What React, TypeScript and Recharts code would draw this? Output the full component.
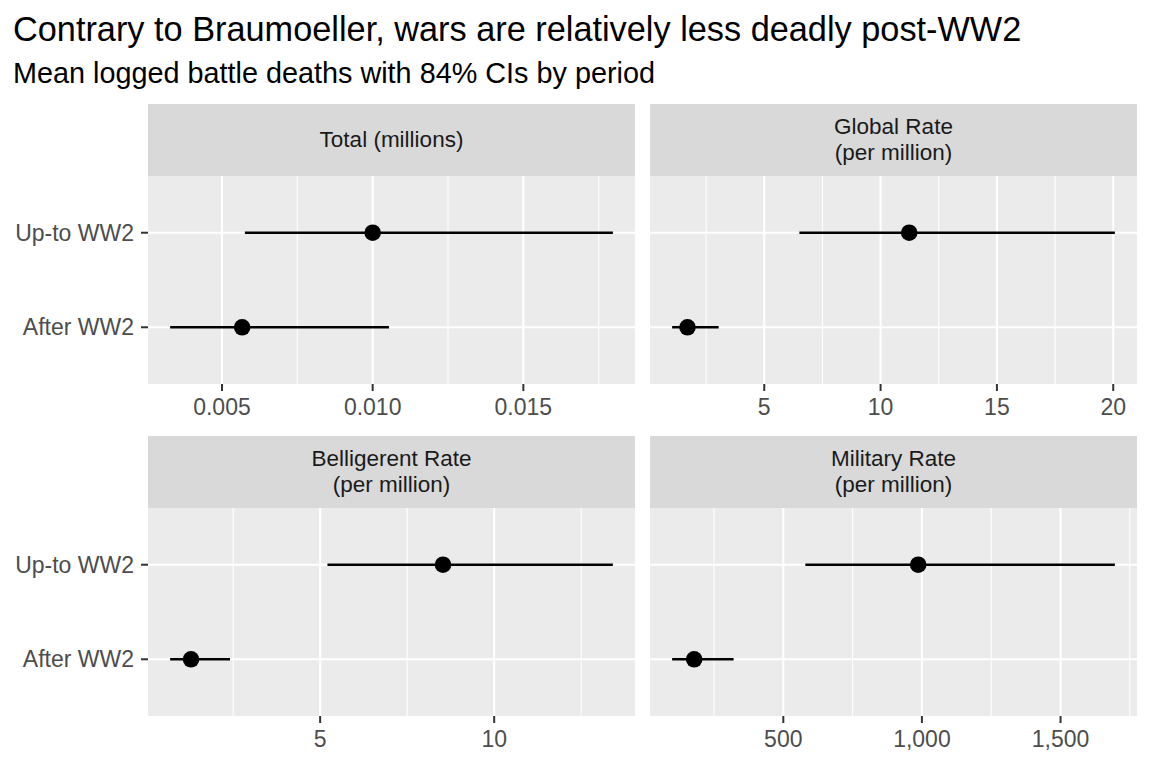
import React from 'react';
import {ScatterChart, Scatter, XAxis, YAxis, CartesianGrid, ErrorBar} from 'recharts';

const categories = ['Up-to WW2', 'After WW2'];
const panelTitles = ['Total (millions)', 'Global Rate\n(per million)', 'Belligerent Rate\n(per million)', 'Military Rate\n(per million)'];

// mean and 84% CI bounds, in category order
const totalMean = [0.0100, 0.00567];
const totalLow = [0.00576, 0.00328];
const totalHigh = [0.01797, 0.01054];

const globalMean = [11.23, 1.70];
const globalLow = [6.51, 1.04];
const globalHigh = [20.07, 3.04];

const belligerentMean = [8.53, 1.29];
const belligerentLow = [5.21, 0.69];
const belligerentHigh = [13.41, 2.41];

const militaryMean = [986.6, 178.5];
const militaryLow = [579.5, 99];
const militaryHigh = [1696, 320.8];

const totalTicks = [0.005, 0.010, 0.015];
const totalMinor = [0.0075, 0.0125, 0.0175];
const globalTicks = [5, 10, 15, 20];
const globalMinor = [2.5, 7.5, 12.5, 17.5];
const belligerentTicks = [5, 10];
const belligerentMinor = [2.5, 7.5, 12.5];
const militaryTicks = [500, 1000, 1500];
const militaryMinor = [250, 750, 1250, 1750];

const FONT = '"Liberation Sans", Arial, sans-serif';

const buildRows = (mean: number[], low: number[], high: number[]) =>
    categories.map((c, i) => ({
        cat: categories.length - i,
        label: c,
        est: mean[i],
        err: [mean[i] - low[i], high[i] - mean[i]],
    }));

const expandDomain = (low: number[], high: number[]): [number, number] => {
    const lo = Math.min(...low);
    const hi = Math.max(...high);
    const pad = (hi - lo) * 0.05;
    return [lo - pad, hi + pad];
};

const catLabel = (v: number) => categories[categories.length - v] ?? '';

const Dot = (props: any) => <circle cx={props.cx} cy={props.cy} r={8.3} fill="#000"/>;

type PanelProps = {
    left: number;
    top: number;
    width: number;
    showY: boolean;
    title: string;
    mean: number[];
    low: number[];
    high: number[];
    ticks: number[];
    minor: number[];
    fmt: (v: number) => string;
};

const Panel = ({left, top, width, showY, title, mean, low, high, ticks, minor, fmt}: PanelProps) => {
    const rows = buildRows(mean, low, high);
    const plotLeft = showY ? 148 : 0;
    return (
        <>
            <div style={{
                position: 'absolute', left: left + plotLeft, top: top - 72, width: width - plotLeft - 5, height: 72,
                background: '#D9D9D9', display: 'flex', alignItems: 'center', justifyContent: 'center',
                textAlign: 'center', whiteSpace: 'pre-line', fontSize: 22.5, lineHeight: '26px', color: '#1A1A1A',
            }}>
                {title}
            </div>
            <div style={{position: 'absolute', left, top}}>
                <ScatterChart width={width} height={260} margin={{top: 0, right: 5, bottom: 0, left: 0}}>
                    <CartesianGrid fill="#EBEBEB" stroke="#fff" strokeWidth={1.1} horizontal={false}
                                   verticalValues={minor}/>
                    <CartesianGrid stroke="#fff" strokeWidth={2.1} verticalValues={ticks}
                                   horizontalValues={[1, 2]}/>
                    <XAxis type="number" dataKey="est" domain={expandDomain(low, high)} ticks={ticks} interval={0}
                           tickFormatter={fmt} height={52} axisLine={false} tickSize={7} tickMargin={8}
                           tickLine={{stroke: '#333', strokeWidth: 2}}
                           tick={{fill: '#4D4D4D', fontSize: 23, fontFamily: FONT}}/>
                    <YAxis type="number" dataKey="cat" domain={[0.4, 2.6]} ticks={[1, 2]} interval={0}
                           tickFormatter={catLabel} width={148} hide={!showY} axisLine={false} tickSize={7}
                           tickMargin={7} tickLine={{stroke: '#333', strokeWidth: 2}}
                           tick={{fill: '#4D4D4D', fontSize: 23, fontFamily: FONT}}/>
                    <Scatter data={rows} shape={Dot} isAnimationActive={false}>
                        <ErrorBar dataKey="err" direction="x" width={0} stroke="#000" strokeWidth={2.7}
                                  isAnimationActive={false}/>
                    </Scatter>
                </ScatterChart>
            </div>
        </>
    );
};

export default function App() {
    return (
        <div style={{position: 'absolute', left: 0, top: 0, width: 1152, height: 768, background: '#fff', fontFamily: FONT, overflow: 'hidden'}}>
            <div style={{position: 'absolute', left: 13, top: 12, fontSize: 34.3, lineHeight: '34.3px', color: '#000', whiteSpace: 'nowrap'}}>
                Contrary to Braumoeller, wars are relatively less deadly post-WW2
            </div>
            <div style={{position: 'absolute', left: 13, top: 59, fontSize: 28.8, lineHeight: '28.8px', color: '#000', whiteSpace: 'nowrap'}}>
                Mean logged battle deaths with 84% CIs by period
            </div>
            <Panel left={0} top={176} width={640} showY title={panelTitles[0]}
                   mean={totalMean} low={totalLow} high={totalHigh} ticks={totalTicks} minor={totalMinor}
                   fmt={(v) => v.toFixed(3)}/>
            <Panel left={650} top={176} width={492} showY={false} title={panelTitles[1]}
                   mean={globalMean} low={globalLow} high={globalHigh} ticks={globalTicks} minor={globalMinor}
                   fmt={(v) => String(v)}/>
            <Panel left={0} top={508} width={640} showY title={panelTitles[2]}
                   mean={belligerentMean} low={belligerentLow} high={belligerentHigh} ticks={belligerentTicks}
                   minor={belligerentMinor} fmt={(v) => String(v)}/>
            <Panel left={650} top={508} width={492} showY={false} title={panelTitles[3]}
                   mean={militaryMean} low={militaryLow} high={militaryHigh} ticks={militaryTicks}
                   minor={militaryMinor} fmt={(v) => v.toLocaleString('en-US')}/>
        </div>
    );
}
